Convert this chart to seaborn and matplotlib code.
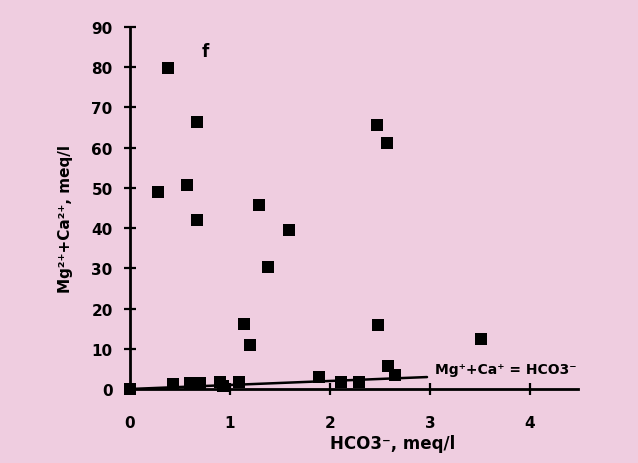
import matplotlib
matplotlib.use("Agg")
import matplotlib.pyplot as plt
import seaborn as sns
import pandas as pd

# points
hco3 = [0.0, 0.28, 0.38, 0.43, 0.57, 0.60, 0.67, 0.67, 0.70, 0.90, 0.93,
        1.09, 1.14, 1.20, 1.29, 1.38, 1.59, 1.89, 2.11, 2.29, 2.47, 2.48,
        2.57, 2.58, 2.65, 3.51]
mg_ca = [0.0, 49.0, 79.8, 1.2, 50.7, 1.5, 66.4, 42.0, 1.5, 1.8, 0.7,
         1.7, 16.2, 11.0, 45.8, 30.4, 39.6, 3.0, 1.8, 1.7, 65.7, 15.9,
         61.2, 5.6, 3.5, 12.4]

# 1:1 reference line
line_x = [0.0, 2.97]
line_y = [0.0, 2.97]

x_ticks = [0, 1, 2, 3, 4]
y_ticks = [0, 10, 20, 30, 40, 50, 60, 70, 80, 90]

df = pd.DataFrame({"hco3": hco3, "mgca": mg_ca})

bg = "#efcde0"
sns.set_style("ticks")
plt.rcParams["font.family"] = ["DejaVu Sans"]
plt.rcParams["text.color"] = "black"
plt.rcParams["axes.labelcolor"] = "black"
plt.rcParams["xtick.color"] = "black"
plt.rcParams["ytick.color"] = "black"

fig = plt.figure(figsize=(6.38, 4.64), dpi=100, facecolor=bg)
ax = fig.add_axes([130 / 638, (464 - 390) / 464, 448 / 638, 362 / 464])
ax.set_facecolor(bg)

ax.plot(line_x, line_y, color="black", linewidth=1.8, zorder=2)
sns.scatterplot(data=df, x="hco3", y="mgca", marker="s", s=85,
                color="black", linewidth=0, ax=ax, zorder=3, clip_on=False)

ax.set_xlim(0, 4.48)
ax.set_ylim(0, 90)
ax.set_xticks(x_ticks)
ax.set_yticks(y_ticks)
ax.set_xticklabels([str(t) for t in x_ticks], fontsize=11, fontweight="bold")
ax.set_yticklabels([str(t) for t in y_ticks], fontsize=11, fontweight="bold")
ax.tick_params(axis="both", direction="inout", length=9, width=1.6,
               color="black", labelcolor="black")
ax.tick_params(axis="x", pad=14)
ax.tick_params(axis="y", pad=8)

for side in ["top", "right"]:
    ax.spines[side].set_visible(False)
for side in ["left", "bottom"]:
    ax.spines[side].set_linewidth(2)
    ax.spines[side].set_color("black")

ax.set_xlabel("HCO3⁻, meq/l", fontsize=12, fontweight="bold")
ax.xaxis.set_label_coords((393 - 130) / 448, -(435 - 390) / 362)
ax.set_ylabel("Mg²⁺+Ca²⁺, meq/l", fontsize=11, fontweight="bold")
ax.yaxis.set_label_coords(-(130 - 73) / 448, (390 - 219) / 362)

ax.text(0.75, 84, "f", fontsize=12, fontweight="bold", ha="center", va="center")
ax.text(3.05, 5, "Mg⁺+Ca⁺ = HCO3⁻", fontsize=10,
        fontweight="bold", ha="left", va="center")

fig.savefig("out.png", dpi=100, facecolor=bg)
